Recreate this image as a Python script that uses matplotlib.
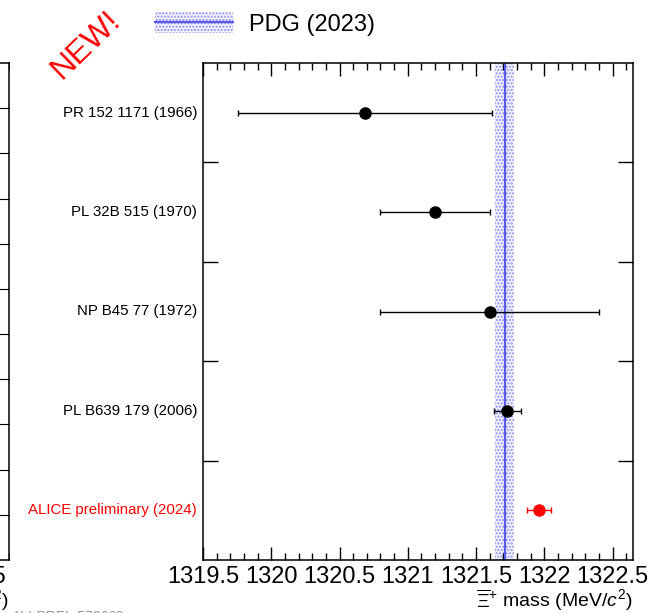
import matplotlib
matplotlib.use("Agg")
import matplotlib.pyplot as plt
from matplotlib.patches import Patch
from matplotlib.lines import Line2D
from matplotlib.ticker import MultipleLocator, NullFormatter

plt.rcParams['font.family'] = ['Liberation Sans', 'DejaVu Sans']
plt.rcParams['mathtext.fontset'] = 'custom'
plt.rcParams['mathtext.rm'] = 'Liberation Sans'
plt.rcParams['mathtext.it'] = 'Liberation Sans:italic'
plt.rcParams['mathtext.bf'] = 'Liberation Sans:bold'

# measurements, top to bottom
labels = ["PR 152 1171 (1966)", "PL 32B 515 (1970)", "NP B45 77 (1972)",
          "PL B639 179 (2006)", "ALICE preliminary (2024)"]
mass = [1320.69, 1321.20, 1321.60, 1321.73, 1321.96]
err = [0.93, 0.40, 0.80, 0.10, 0.09]
colors = ["black", "black", "black", "black", "red"]

pdg_mass = 1321.71
pdg_err = 0.07

W, H = 664, 613
fig = plt.figure(figsize=(W / 100, H / 100), dpi=100)

# main panel
ax = fig.add_axes([203 / W, (H - 560) / H, 430 / W, 497 / H])
ax.axvspan(pdg_mass - pdg_err, pdg_mass + pdg_err, facecolor='#f2f2ff',
           edgecolor='#8c8cf0', hatch='.....', lw=0, zorder=1)
ax.axvline(pdg_mass, color='#5a5aee', lw=1.6, zorder=2)

n = len(labels)
for i, (lab, m, e, c) in enumerate(zip(labels, mass, err, colors)):
    y = n - 0.5 - i
    ax.errorbar(m, y, xerr=e, fmt='o', color=c, ms=8, lw=1.0,
                capsize=2, capthick=1.0, zorder=3)
    ax.annotate(lab, xy=(0, y), xycoords=('axes fraction', 'data'),
                xytext=(-6, 0), textcoords='offset pixels',
                ha='right', va='center', fontsize=10.8, color=c)

ax.set_xlim(1319.5, 1322.65)
ax.set_ylim(0, n)
ax.xaxis.set_minor_locator(MultipleLocator(0.1))
ax.set_xticks([1319.5, 1320, 1320.5, 1321, 1321.5, 1322, 1322.5])
ax.set_xticklabels(["1319.5", "1320", "1320.5", "1321", "1321.5", "1322", "1322.5"])
ax.set_yticks([1, 2, 3, 4])
ax.yaxis.set_major_formatter(NullFormatter())
ax.tick_params(axis='x', which='major', direction='in', top=True, length=9.4,
               width=1, labelsize=17, pad=4)
ax.tick_params(axis='x', which='minor', direction='in', top=True, length=4.7, width=1)
ax.tick_params(axis='y', which='major', direction='in', right=True, length=10.8, width=1)
ax.set_xlabel(r'$\overline{\Xi}^{+}$ mass (MeV/$c^{2}$)', fontsize=14,
              loc='right', labelpad=0)
for s in ax.spines.values():
    s.set_linewidth(1.1)

# neighbouring panel, cut by the figure edge
axl = fig.add_axes([-485 / W, (H - 560) / H, 494 / W, 497 / H])
axl.set_xlim(0, 2.6)
axl.set_ylim(0, 11)
axl.xaxis.set_major_locator(MultipleLocator(0.5))
axl.xaxis.set_minor_locator(MultipleLocator(0.1))
axl.set_yticks(range(1, 11))
axl.yaxis.set_major_formatter(NullFormatter())
axl.tick_params(axis='x', which='major', direction='in', top=True, length=9.4,
                labelsize=17, pad=4)
axl.tick_params(axis='x', which='minor', direction='in', top=True, length=4.7)
axl.tick_params(axis='y', direction='in', left=False, right=True, length=8.6)
axl.set_xlabel(r'$\Xi^{-}$ mass (MeV/$c^{2}$)', fontsize=14, loc='right', labelpad=0)
for s in axl.spines.values():
    s.set_linewidth(1.1)

# legend
band = Patch(facecolor='#f2f2ff', edgecolor='#8c8cf0', hatch='.....', lw=0)
line = Line2D([], [], color='#5a5aee', lw=1.6)
fig.legend([(band, line)], ["PDG (2023)"], loc='center left',
           bbox_to_anchor=(155 / W, 1 - 24 / H), frameon=False, fontsize=17,
           handlelength=3.3, handleheight=1.0, handletextpad=0.7,
           borderpad=0, borderaxespad=0)

fig.text(86 / W, 1 - 45 / H, "NEW!", color='red', fontsize=23, rotation=44,
         ha='center', va='center', rotation_mode='anchor')
fig.text(12 / W, 1 - 610 / H, "ALI-PREL-578669", color='#999999', fontsize=10,
         ha='left', va='top')

fig.savefig("out.png", dpi=100)
